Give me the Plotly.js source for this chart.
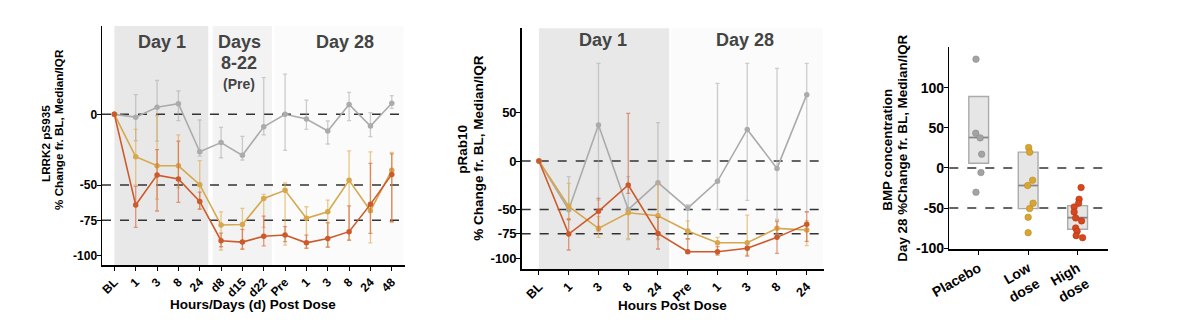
<!DOCTYPE html>
<html>
<head>
<meta charset="utf-8">
<script src="https://cdn.plot.ly/plotly-3.0.1.min.js"></script>
<style>html,body{margin:0;padding:0;background:#fff;}#chart{width:1179px;height:322px;}</style>
</head>
<body>
<div id="chart"></div>
<script>
// ---------- Panel 1: LRRK2 pS935 ----------
const labels1 = ['BL','1','3','8','24','d8','d15','d22','Pre','1','3','8','24','48'];
const p1Placebo   = [0,-2,5,7.5,-26.5,-20,-29,-8.8,0,-3.3,-11.8,7,-8.3,7.8];
const p1PlaceboHi = [null,14,24,16.5,-4,-9.2,-15.6,26,28.5,10,-4.7,15.6,1.2,13.2];
const p1PlaceboLo = [null,-18.7,-19,-4.5,-29.5,-30.7,-32.3,-14.5,-25.5,-10.6,-21,-4.5,-15.8,4.2];
const p1Low   = [0,-30,-36.4,-36.4,-49.8,-78.3,-77.9,-59.5,-53.8,-73.6,-68.9,-46.7,-68.2,-39.6];
const p1LowHi = [null,-10.6,-1,-14.6,-32.8,-69,-66.5,-56.6,-48.6,-65.4,-60.7,-25.8,-26.5,-27];
const p1LowLo = [null,-50,-60,-52,-67,-96,-95,-80,-92.5,-94.8,-94,-89,-90.9,-76];
const p1High   = [0,-64.2,-43,-45.8,-61.6,-89.4,-90.4,-86.3,-85.4,-90.9,-87.8,-83,-63.7,-42.5];
const p1HighHi = [null,-51,-25,-19,-55,-84,-81.4,-72,-79.5,-85.4,-76.7,-64.7,-34.7,-28];
const p1HighLo = [null,-80,-68.4,-62.3,-67,-93.7,-95.5,-93,-90,-94.6,-94,-89,-84.2,-76];

// ---------- Panel 2: pRab10 ----------
const labels2 = ['BL','1','3','8','24','Pre','1','3','8','24'];
const p2Placebo   = [0,-50.2,37.1,-50,-22.3,-48.5,-20.9,32.6,-7.6,68.4];
const p2PlaceboHi = [null,-16,100.7,-16,39.5,-45,80,100.7,95.5,100.7];
const p2PlaceboLo = [null,-59.5,-40.2,-80,-81,-80,-49.8,-40.5,-60,-52.3];
const p2Low   = [0,-46.7,-69.4,-53.3,-56.4,-72.2,-84.2,-84.2,-69.4,-71.1];
const p2LowHi = [null,-23,-57.4,-50,-23,-61.7,-78.7,-55.7,-62,-61.5];
const p2LowLo = [null,-60.8,-78.7,-81,-79.7,-80,-96,-97,-74.3,-87.3];
const p2High   = [0,-75.3,-51.9,-24.7,-74.6,-93.5,-93.5,-90,-78.7,-65.3];
const p2HighHi = [null,-60,-38.5,49.2,-58,-80.4,-88.3,-88,-62,-52.5];
const p2HighLo = [null,-91.7,-72,-33.3,-90.7,-95,-96.9,-98,-95.2,-82.8];

// ---------- Panel 3: BMP concentration ----------
const groups3 = ['Placebo','Low<br>dose','High<br>dose'];
const q1_3  = [5.8,-50.7,-76.5];
const med3  = [37.8,-22,-62];
const q3_3  = [89,19.6,-47];
const placeboPts = [135.5,43.2,37.4,17.1,-5.8,-30.3];
const placeboJit = [-0.055,-0.06,0.03,0.06,0.046,-0.055];
const lowPts = [25.3,19.6,-15.3,-22,-44,-50.7,-61.5,-80.7];
const lowJit = [0.01,0.03,0.09,-0.01,0.1,0.03,0,0];
const highPts = [-24.5,-39,-44,-48.6,-54.9,-62.3,-66,-74.8,-79,-84.4,-86.9];
const highJit = [0.07,0.03,0.02,-0.07,-0.07,-0.04,0.08,-0.04,-0.01,-0.03,0.1];

// ---------- styling ----------
const W = 1179, H = 322;
const PX = x => x / W, PY = y => 1 - y / H;
const FONT = 'Liberation Sans, Arial, sans-serif';
const COL = {
  placebo: {line:'#ababab', err:'rgba(165,165,165,0.55)'},
  low:     {line:'#d6a74c', err:'rgba(222,172,80,0.65)'},
  high:    {line:'#cc5a2a', err:'rgba(212,100,58,0.65)'}
};

function series(labels, med, hi, lo, c, xa, ya) {
  const x = labels.map((_, i) => i);
  return {
    type:'scatter', mode:'lines+markers', x, y: med, xaxis: xa, yaxis: ya,
    line:{color:c.line, width:1.6}, marker:{color:c.line, size:5.5},
    error_y:{type:'data', symmetric:false, visible:true,
      array: med.map((m,i) => hi[i]==null ? NaN : hi[i]-m),
      arrayminus: med.map((m,i) => lo[i]==null ? NaN : m-lo[i]),
      color:c.err, thickness:1.3, width:2},
    showlegend:false, hoverinfo:'skip'
  };
}

const gx = groups3.map((_, i) => i);
const traces = [
  series(labels1, p1Placebo, p1PlaceboHi, p1PlaceboLo, COL.placebo, 'x', 'y'),
  series(labels1, p1Low, p1LowHi, p1LowLo, COL.low, 'x', 'y'),
  series(labels1, p1High, p1HighHi, p1HighLo, COL.high, 'x', 'y'),
  series(labels2, p2Placebo, p2PlaceboHi, p2PlaceboLo, COL.placebo, 'x2', 'y2'),
  series(labels2, p2Low, p2LowHi, p2LowLo, COL.low, 'x2', 'y2'),
  series(labels2, p2High, p2HighHi, p2HighLo, COL.high, 'x2', 'y2'),
  {
    type:'box', x: gx, q1: q1_3, median: med3, q3: q3_3,
    lowerfence: q1_3, upperfence: q3_3, width:0.4, whiskerwidth:0,
    fillcolor:'#e6e6e6', line:{color:'#ababab', width:1.4},
    xaxis:'x3', yaxis:'y3', showlegend:false, hoverinfo:'skip', boxpoints:false
  },
  {
    // darker median line drawn as a flat box
    type:'box', x: gx, q1: med3, median: med3, q3: med3,
    lowerfence: med3, upperfence: med3, width:0.4, whiskerwidth:0,
    fillcolor:'rgba(0,0,0,0)', line:{color:'#858585', width:1.6},
    xaxis:'x3', yaxis:'y3', showlegend:false, hoverinfo:'skip', boxpoints:false
  }
];
const ptSets = [
  [placeboPts, placeboJit, 0, '#a3a3a3', '#8a8a8a'],
  [lowPts, lowJit, 1, '#d9a631', '#b88a20'],
  [highPts, highJit, 2, '#d8471c', '#b53810']
];
ptSets.forEach(([vals, jit, g, fill, edge]) => {
  traces.push({type:'scatter', mode:'markers', xaxis:'x3', yaxis:'y3',
    x: vals.map((_, i) => g + jit[i]), y: vals,
    marker:{color:fill, size:6.5, line:{color:edge, width:0.6}},
    showlegend:false, hoverinfo:'skip'});
});

const tickFont = s => ({family:FONT, size:s, color:'#000', weight:'bold'});
function xAxis(dom, anchor, labels, range, angle, fs) {
  return {domain:dom, anchor, range, tickmode:'array', tickvals: labels.map((_, i) => i),
    ticktext: labels, tickangle: angle, tickfont: tickFont(fs), showline:true, linecolor:'#000',
    linewidth:1.5, ticks:'outside', ticklen:4, tickcolor:'#000', showgrid:false, zeroline:false, fixedrange:true};
}
function yAxis(dom, anchor, range, vals, fs) {
  return {domain:dom, anchor, range, tickmode:'array', tickvals: vals, ticktext: vals.map(String),
    tickfont: tickFont(fs), showline:true, linecolor:'#000', linewidth:1.5, ticks:'outside',
    ticklen:4, tickcolor:'#000', showgrid:false, zeroline:false, fixedrange:true, ticklabelstandoff:-3};
}

function rect(xref, yref, x0, x1, color) {
  return {type:'rect', xref, yref: yref + ' domain', x0, x1, y0:0, y1:1, fillcolor:color, line:{width:0}, layer:'below'};
}
function dash(xref, yref, y) {
  return {type:'line', xref: xref + ' domain', yref, x0:0, x1:1, y0:y, y1:y, line:{color:'#333', width:1.5, dash:'dash'}, layer:'below'};
}

const shapes = [
  rect('x','y',0,4.4,'#e8e8e8'), rect('x','y',4.61,7.38,'#f3f3f3'), rect('x','y',7.5,13.55,'#fbfbfb'),
  rect('x2','y2',0,4.38,'#e8e8e8'), rect('x2','y2',4.45,9.55,'#fbfbfb'),
  dash('x','y',0), dash('x','y',-50), dash('x','y',-75),
  dash('x2','y2',0), dash('x2','y2',-50), dash('x2','y2',-75),
  dash('x3','y3',0), dash('x3','y3',-50)
];

function ann(text, x, y, size, color, angle) {
  return {text, x: PX(x), y: PY(y), xref:'paper', yref:'paper', showarrow:false,
    xanchor:'center', yanchor:'middle', textangle: angle || 0,
    font:{family:FONT, size, color: color || '#000', weight:'bold'}};
}

const annotations = [
  ann('Day 1', 161.7, 42, 18, '#444'),
  ann('Days', 239, 42, 18, '#444'),
  ann('8-22', 239, 63, 18, '#444'),
  ann('(Pre)', 239, 84, 14, '#444'),
  ann('Day 28', 345, 42, 18, '#444'),
  ann('Day 1', 603, 40, 18, '#444'),
  ann('Day 28', 745, 40, 18, '#444'),
  ann('LRRK2 pS935', 45, 144, 11.7, '#000', -90),
  ann('% Change fr. BL, Median/IQR', 58, 130, 11.7, '#000', -90),
  ann('Hours/Days (d) Post Dose', 253, 304, 13.5),
  ann('pRab10', 462.7, 149, 13.5, '#000', -90),
  ann('% Change fr. BL, Median/IQR', 477.7, 148, 13.5, '#000', -90),
  ann('Hours Post Dose', 672.7, 305.7, 13.5),
  ann('BMP concentration', 886.7, 150, 13.4, '#000', -90),
  ann('Day 28 %Change fr. BL, Median/IQR', 901.7, 148, 13.4, '#000', -90)
];

const layout = {
  width: W, height: H, margin:{l:0, r:0, t:0, b:0},
  paper_bgcolor:'#fff', plot_bgcolor:'rgba(0,0,0,0)', showlegend:false,
  font:{family:FONT},
  xaxis:  xAxis([PX(102), PX(405)], 'y', labels1, [-0.58, 13.62], -45, 12),
  yaxis:  yAxis([PY(265), PY(26)], 'x', [-106.6, 62.5], [0,-50,-75,-100], 12),
  xaxis2: xAxis([PX(521.7), PX(824.3)], 'y2', labels2, [-0.58, 9.59], -45, 12.5),
  yaxis2: yAxis([PY(269), PY(28.3)], 'x2', [-111.3, 136.8], [50,0,-50,-75,-100], 13),
  xaxis3: xAxis([PX(949.3), PX(1108.3)], 'y3', groups3, [-0.594, 2.62], -30, 14),
  yaxis3: yAxis([PY(249.3), PY(46.7)], 'x3', [-101.4, 151], [100,50,0,-50,-100], 14),
  shapes, annotations
};

Plotly.newPlot('chart', traces, layout, {staticPlot:true, displayModeBar:false});
</script>
</body>
</html>
